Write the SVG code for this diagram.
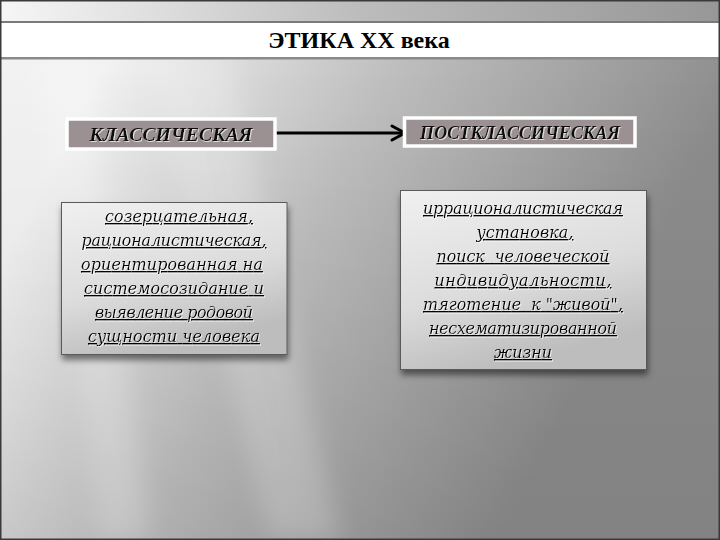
<svg xmlns="http://www.w3.org/2000/svg" width="720" height="540" viewBox="0 0 720 540">
<style>
.hdr{font-family:"Liberation Serif","Times New Roman",serif;font-weight:bold;font-style:italic;font-size:19px;fill:#111;text-anchor:middle}
.body{font-family:"DejaVu Serif",serif;font-style:italic;font-size:16px;fill:#000;text-anchor:middle;text-decoration:underline}
.title{font-family:"Liberation Serif","Times New Roman",serif;font-weight:bold;font-size:24px;fill:#000;text-anchor:middle}
.lbl{fill:#9b9192;stroke:#ffffff;stroke-width:3.5}
.card{stroke:#5a5a5a;stroke-width:1}
.conn{stroke:#000;stroke-width:3;fill:none;stroke-linecap:round;stroke-linejoin:round}
</style>
<defs>
<linearGradient id="bg" gradientUnits="userSpaceOnUse" x1="60" y1="150" x2="560" y2="420">
<stop offset="0" stop-color="#f2f2f2"/>
<stop offset="0.45" stop-color="#bebebe"/>
<stop offset="1" stop-color="#8c8c8c"/>
</linearGradient>
<linearGradient id="dim" x1="0" y1="0" x2="0" y2="1">
<stop offset="0" stop-color="#000" stop-opacity="0"/>
<stop offset="1" stop-color="#000" stop-opacity="0.07"/>
</linearGradient>
<linearGradient id="topbar" x1="0" y1="0" x2="1" y2="0">
<stop offset="0" stop-color="#f6f6f6"/>
<stop offset="0.2" stop-color="#e0e0e0"/>
<stop offset="0.5" stop-color="#bcbcbc"/>
<stop offset="1" stop-color="#979797"/>
</linearGradient>
<linearGradient id="card" x1="0" y1="0" x2="0.35" y2="1">
<stop offset="0" stop-color="#f0f0f0"/>
<stop offset="0.6" stop-color="#dcdcdc"/>
<stop offset="1" stop-color="#bdbdbd"/>
</linearGradient>
<filter id="shadow" x="-10%" y="-10%" width="120%" height="125%">
<feDropShadow dx="1" dy="5" stdDeviation="3" flood-color="#000" flood-opacity="0.5"/>
</filter>
<filter id="blur" x="-20%" y="-20%" width="140%" height="140%">
<feGaussianBlur stdDeviation="12"/>
</filter>
<filter id="emb" x="-5%" y="-20%" width="110%" height="140%">
<feDropShadow dx="1" dy="1" stdDeviation="0.5" flood-color="#ffffff" flood-opacity="0.7"/>
</filter>
</defs>

<g id="background">
<rect x="0" y="0" width="720" height="540" fill="url(#bg)"/>
<rect x="0" y="59" width="720" height="481" fill="url(#dim)"/>
<g filter="url(#blur)" fill="#ffffff" opacity="0.2">
<polygon points="150,59 230,59 340,540 270,540"/>
<polygon points="40,59 90,59 150,540 100,540"/>
</g>
<rect x="0" y="0" width="720" height="22" fill="url(#topbar)"/>
<rect x="0" y="21" width="720" height="2" fill="#7a7a7a"/>
<rect x="0" y="23" width="720" height="34" fill="#ffffff"/>
<rect x="0" y="57" width="720" height="2.5" fill="#8a8a8a"/>
<rect x="0.75" y="0.75" width="718.5" height="538.5" fill="none" stroke="#3a3a3a" stroke-width="1.5"/>
</g>

<g id="title">
<text class="title" x="359" y="48">ЭТИКА XX века</text>
</g>

<g id="connectors">
<line class="conn" x1="275" y1="133" x2="404" y2="133"/>
<polyline class="conn" points="392,126 405,133 392,140"/>
</g>

<g id="node-classic">
<rect class="lbl" x="67" y="119" width="208" height="30"/>
<text class="hdr" x="171" y="140.5" textLength="163" lengthAdjust="spacingAndGlyphs" filter="url(#emb)">КЛАССИЧЕСКАЯ</text>
</g>

<g id="node-postclassic">
<rect class="lbl" x="404.5" y="118" width="230.5" height="28"/>
<text class="hdr" x="520" y="138.5" textLength="200" lengthAdjust="spacingAndGlyphs" filter="url(#emb)">ПОСТКЛАССИЧЕСКАЯ</text>
</g>

<g id="node-classic-desc">
<rect class="card" x="61.5" y="202.5" width="225.5" height="152" fill="url(#card)" filter="url(#shadow)"/>
<g filter="url(#emb)">
<text class="body" x="179" y="222" textLength="148">созерцательная,</text>
<text class="body" x="174" y="246" textLength="185">рационалистическая,</text>
<text class="body" x="172" y="270" textLength="182">ориентированная на</text>
<text class="body" x="174" y="294" textLength="180">системосозидание и</text>
<text class="body" x="174" y="318" textLength="158">выявление родовой</text>
<text class="body" x="174" y="342" textLength="172">сущности человека</text>
</g>
</g>

<g id="node-postclassic-desc">
<rect class="card" x="400.5" y="190.5" width="246" height="179" fill="url(#card)" filter="url(#shadow)"/>
<g filter="url(#emb)">
<text class="body" x="523" y="214" textLength="200">иррационалистическая</text>
<text class="body" x="525" y="238" textLength="97">установка,</text>
<text class="body" x="523" y="262" textLength="173" xml:space="preserve">поиск  человеческой</text>
<text class="body" x="523" y="286" textLength="177">индивидуальности,</text>
<text class="body" x="523" y="310" textLength="200" xml:space="preserve">тяготение  к "живой",</text>
<text class="body" x="523" y="334" textLength="188">несхематизированной</text>
<text class="body" x="523" y="358" textLength="58">жизни</text>
</g>
</g>
</svg>
